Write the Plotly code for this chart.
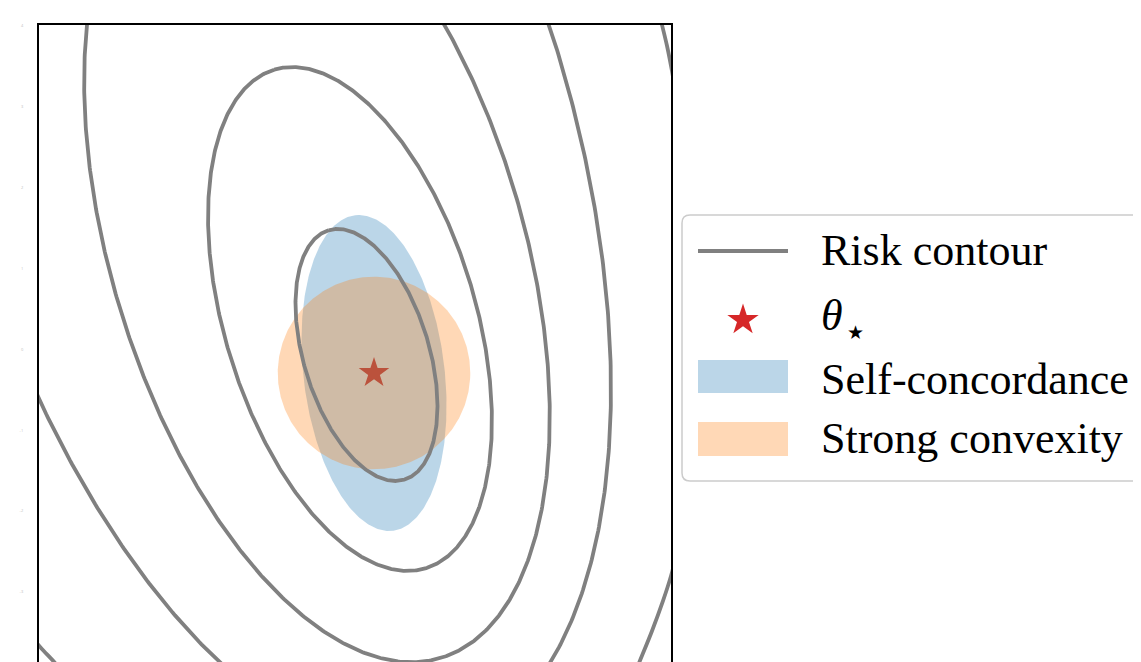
import numpy as np
import plotly.graph_objects as go

# ---- data (data units) ----
theta_star = [4.141, 2.707]

# closed / nearly closed risk contours: ellipse centres, semi-axes, tilt (deg from +x)
contour_cx = [4.048, 3.844, 3.436, 2.806]
contour_cy = [2.930, 3.375, 4.240, 5.575]
contour_a = [1.611, 3.221, 5.282, 7.827]
contour_b = [0.776, 1.551, 2.544, 3.769]
contour_tilt = [106.9, 106.9, 106.9, 106.9]

# outermost risk contour: only corner pieces are visible (traced points, None = gap)
outer_x = [7.627, 7.701, 7.763, 7.824, 7.886, None,
           7.874, 7.812, 7.713, 7.577, 7.417, 7.367, None,
           -0.099, 0.025, 0.198, 0.272]
outer_y = [7.305, 7.009, 6.749, 6.440, 6.069, None,
           0.445, 0.198, -0.111, -0.482, -0.877, -1.001, None,
           -0.544, -0.692, -0.878, -0.977]

# self-concordance ellipse
sc_a, sc_b, sc_tilt = 1.964, 0.872, 96.8
# strong convexity disc
strong_r = 1.19

ytick_vals = [0, 1, 2, 3, 4, 5, 6, 7]
ytick_text = ["-3", "-2", "-1", "0", "1", "2", "3", "4"]

x_range = [0, 7.812]
y_range = [-0.878, 7.009]

legend_labels = ["Risk contour",
                 "<i>θ</i><sub><span style='font-size:19px'> ★</span></sub>",
                 "Self-concordance", "Strong convexity"]

GRAY = "#808080"
RED = "#d62728"
BLUE_FILL = "rgba(31,119,180,0.3)"
ORANGE_FILL = "rgba(255,127,14,0.3)"


def ellipse(cx, cy, a, b, tilt_deg, n=400):
    t = np.linspace(0, 2 * np.pi, n)
    th = np.deg2rad(tilt_deg)
    x = cx + a * np.cos(t) * np.cos(th) - b * np.sin(t) * np.sin(th)
    y = cy + a * np.cos(t) * np.sin(th) + b * np.sin(t) * np.cos(th)
    return x, y


fig = go.Figure()

# theta star (drawn under the fills, like the reference)
fig.add_trace(go.Scatter(
    x=[theta_star[0]], y=[theta_star[1]], mode="markers",
    marker=dict(symbol="star", size=23, color=RED, line=dict(width=0)),
    name="θ⋆", showlegend=False))

x, y = ellipse(theta_star[0], theta_star[1], sc_a, sc_b, sc_tilt)
fig.add_trace(go.Scatter(
    x=x, y=y, mode="lines", fill="toself", fillcolor=BLUE_FILL,
    line=dict(width=0, color="rgba(0,0,0,0)"), name="Self-concordance", showlegend=False))

x, y = ellipse(theta_star[0], theta_star[1], strong_r, strong_r, 0)
fig.add_trace(go.Scatter(
    x=x, y=y, mode="lines", fill="toself", fillcolor=ORANGE_FILL,
    line=dict(width=0, color="rgba(0,0,0,0)"), name="Strong convexity", showlegend=False))

for i in range(len(contour_cx)):
    x, y = ellipse(contour_cx[i], contour_cy[i], contour_a[i], contour_b[i], contour_tilt[i], 800)
    fig.add_trace(go.Scatter(
        x=x, y=y, mode="lines", line=dict(color=GRAY, width=3.8),
        name="Risk contour", showlegend=False))

fig.add_trace(go.Scatter(
    x=outer_x, y=outer_y, mode="lines", line=dict(color=GRAY, width=3.8, shape="spline"),
    connectgaps=False, name="Risk contour", showlegend=False))

# ---- layout geometry (window pixels; page body adds a small offset) ----
OFF = 7
L, T, PW, PH = 38 - OFF, 24 - OFF, 632, 638
W, H = 1141, 662
B = H - T - PH
R = W - L - PW


def px(wx):
    return (wx - 38) / PW


def py(wy):
    return (662 - wy) / PH


shapes = []
# legend frame with rounded left corners
x0, x1, yt, yb = px(681), px(1160), py(214), py(480)
rx, ry = 8 / PW, 8 / PH
shapes.append(dict(
    type="path", xref="paper", yref="paper",
    path=(f"M {x1},{yt} L {x0 + rx},{yt} Q {x0},{yt} {x0},{yt - ry} "
          f"L {x0},{yb + ry} Q {x0},{yb} {x0 + rx},{yb} L {x1},{yb} Z"),
    fillcolor="white", line=dict(color="#cccccc", width=1.5), layer="above"))
# legend: line sample
shapes.append(dict(type="line", xref="paper", yref="paper",
                   x0=px(697), x1=px(787), y0=py(250), y1=py(250),
                   line=dict(color=GRAY, width=3.8), layer="above"))
# legend: star sample
cxs, cys, Ro, Ri = 742, 319, 16.5, 16.5 * 0.382
pts = []
for k in range(10):
    ang = np.pi / 2 + k * np.pi / 5
    rr = Ro if k % 2 == 0 else Ri
    pts.append((px(cxs + rr * np.cos(ang)), py(cys - rr * np.sin(ang))))
star_path = "M " + " L ".join(f"{a},{b}" for a, b in pts) + " Z"
shapes.append(dict(type="path", xref="paper", yref="paper", path=star_path,
                   fillcolor=RED, line=dict(width=0), layer="above"))
# legend: patches
shapes.append(dict(type="rect", xref="paper", yref="paper",
                   x0=px(697), x1=px(787), y0=py(392), y1=py(359),
                   fillcolor=BLUE_FILL, line=dict(width=0), layer="above"))
shapes.append(dict(type="rect", xref="paper", yref="paper",
                   x0=px(697), x1=px(787), y0=py(455), y1=py(421),
                   fillcolor=ORANGE_FILL, line=dict(width=0), layer="above"))

label_rows = [250, 316, 378, 437]
annotations = []
for lab, wy in zip(legend_labels, label_rows):
    annotations.append(dict(
        text=lab, xref="paper", yref="paper", x=px(818), y=py(wy),
        xanchor="left", yanchor="middle", showarrow=False,
        font=dict(family="Liberation Serif", size=44, color="black")))

fig.update_layout(
    width=W, height=H,
    margin=dict(l=L, r=R, t=T, b=B, autoexpand=False),
    plot_bgcolor="white", paper_bgcolor="white",
    showlegend=False,
    shapes=shapes, annotations=annotations,
    xaxis=dict(range=x_range, side="top", showline=True, linecolor="black", linewidth=2,
               mirror=False, showgrid=False, zeroline=False, showticklabels=False, ticks=""),
    yaxis=dict(range=y_range, showline=True, linecolor="black", linewidth=2, mirror=True,
               showgrid=False, zeroline=False, ticks="", tickvals=ytick_vals, ticktext=ytick_text,
               tickfont=dict(size=4, color="#c0c0c0"), ticklabelstandoff=13),
)

fig.write_html("out.html")
